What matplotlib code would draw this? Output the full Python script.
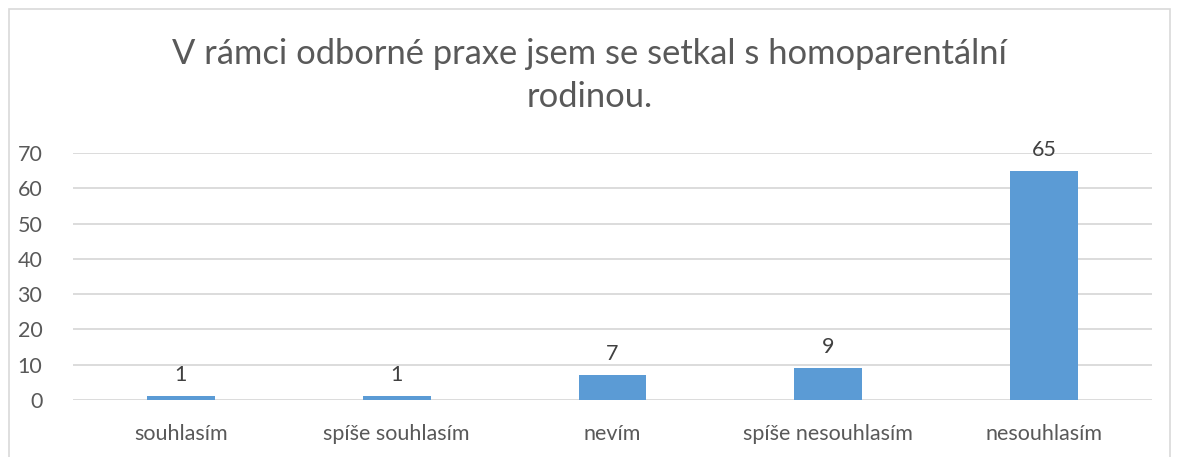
import matplotlib.pyplot as plt
from matplotlib.patches import Rectangle

categories = ["souhlasím", "spíše souhlasím", "nevím", "spíše nesouhlasím", "nesouhlasím"]
values = [1, 1, 7, 9, 65]
yticks = [0, 10, 20, 30, 40, 50, 60, 70]
title = "V rámci odborné praxe jsem se setkal s homoparentální\nrodinou."

TEXT = "#595959"
GRID = "#d9d9d9"
BAR = "#5b9bd5"

plt.rcParams["font.family"] = ["Lato", "DejaVu Sans"]

fig = plt.figure(figsize=(11.79, 4.57), dpi=100)
fig.patches.append(Rectangle((9 / 1179, -0.01), 1161 / 1179, 1 - 9 / 457 + 0.01,
                             transform=fig.transFigure, fill=False,
                             edgecolor=GRID, linewidth=1.2))

ax = fig.add_axes([73 / 1179, 57 / 457, 1079 / 1179, 247 / 457])
x = range(len(categories))
bars = ax.bar(x, values, width=0.315, color=BAR, zorder=3)
for b, v in zip(bars, values):
    ax.annotate(str(v), (b.get_x() + b.get_width() / 2, v), xytext=(0, 8),
                textcoords="offset points", ha="center", va="bottom",
                fontsize=15.5, color="#404040")

ax.set_xlim(-0.5, len(categories) - 0.5)
ax.set_ylim(0, 70)
ax.set_yticks(yticks)
ax.set_xticks(list(x))
ax.set_xticklabels(categories)
ax.yaxis.grid(True, color=GRID, linewidth=1.3, zorder=0)
for s in ax.spines.values():
    s.set_visible(False)
ax.tick_params(axis="both", length=0, labelsize=15.5, labelcolor=TEXT)
ax.tick_params(axis="y", pad=22)
ax.tick_params(axis="x", pad=17)

fig.text(0.5, 0.834, title, ha="center", va="center", fontsize=24.8,
         color=TEXT, linespacing=1.42)

fig.savefig("out.png", dpi=100)
